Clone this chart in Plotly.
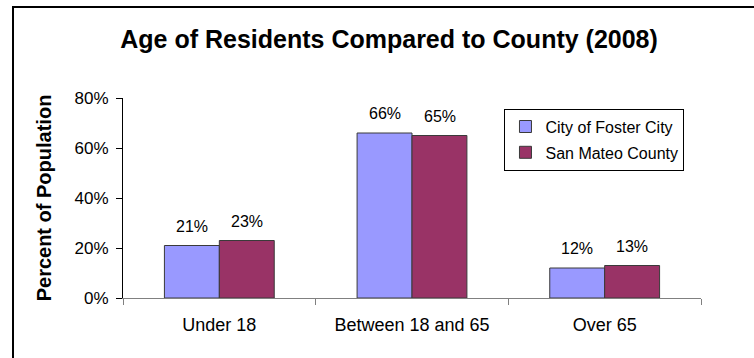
import plotly.graph_objects as go

# Age distribution, 2008
categories = ["Under 18", "Between 18 and 65", "Over 65"]
foster_city = [0.21, 0.66, 0.12]
san_mateo = [0.23, 0.65, 0.13]
series_names = ["City of Foster City", "San Mateo County"]
y_ticks = [0, 0.2, 0.4, 0.6, 0.8]

FONT = "Liberation Sans, Arial, sans-serif"
BLUE = "#9999FF"
PLUM = "#993366"
OUTLINE = "#3a3a3a"

fig = go.Figure()
for name, vals, color, grp in [
    (series_names[0], foster_city, BLUE, "a"),
    (series_names[1], san_mateo, PLUM, "b"),
]:
    fig.add_trace(go.Bar(
        x=categories, y=vals, name=name, legendgroup=grp,
        marker=dict(color=color, line=dict(color=OUTLINE, width=1)),
        hoverinfo="skip",
    ))

# value labels above each bar
bar_half_px = 27.5
for vals, shift in [(foster_city, -bar_half_px), (san_mateo, bar_half_px)]:
    for cat, v in zip(categories, vals):
        fig.add_annotation(
            x=cat, y=v, xshift=shift, yshift=9,
            text=f"{v:.0%}", showarrow=False, yanchor="bottom",
            font=dict(family=FONT, size=16, color="black"),
        )

# outer frame (left and top edges)
fig.add_shape(
    type="path", xref="paper", yref="paper",
    path="M -0.1903,-0.35 L -0.1903,1.455 L 1.10,1.455",
    line=dict(color="black", width=2),
)

fig.update_layout(
    width=754, height=358,
    margin=dict(l=123, r=53, t=98, b=60),
    paper_bgcolor="white", plot_bgcolor="white",
    font=dict(family=FONT, color="black"),
    barmode="group", bargap=0.43, bargroupgap=0,
    title=dict(
        text="<b>Age of Residents Compared to County (2008)</b>",
        x=0.516, xref="container", xanchor="center",
        y=1 - 39 / 358, yref="container", yanchor="middle",
        font=dict(family=FONT, size=25, color="black"),
    ),
    showlegend=True,
    legend=dict(
        x=0.66, y=0.947, xanchor="left", yanchor="top",
        bgcolor="white", bordercolor="black", borderwidth=1,
        font=dict(family=FONT, size=16, color="black"),
        traceorder="grouped", tracegroupgap=2,
    ),
    xaxis=dict(
        showline=True, linecolor="#808080", linewidth=1,
        ticks="outside", tickson="boundaries", ticklen=6, tickcolor="#808080",
        tickfont=dict(family=FONT, size=18, color="black"),
        ticklabelstandoff=10,
        showgrid=False, zeroline=False, fixedrange=True,
    ),
    yaxis=dict(
        range=[0, 0.8], tickvals=y_ticks, tickformat=".0%",
        showline=True, linecolor="black", linewidth=1,
        ticks="outside", ticklen=6, tickcolor="black",
        tickfont=dict(family=FONT, size=17, color="black"),
        ticklabelstandoff=4,
        showgrid=False, zeroline=False, fixedrange=True,
        title=dict(
            text="<b>Percent of Population</b>",
            font=dict(family=FONT, size=20, color="black"),
            standoff=17,
        ),
    ),
)

fig.write_html("out.html")
